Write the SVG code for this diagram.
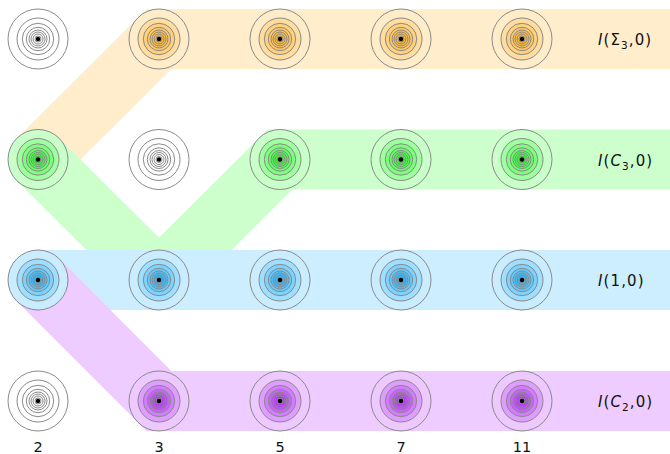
<svg xmlns="http://www.w3.org/2000/svg" xmlns:xlink="http://www.w3.org/1999/xlink" width="670" height="454" viewBox="0 0 670 454">
<style>
.band{fill:none;stroke-width:60;stroke-linecap:butt;stroke-linejoin:miter;stroke-miterlimit:10}
.lbl{font-family:"DejaVu Sans","Liberation Sans",sans-serif;font-size:15px;letter-spacing:1.1px;fill:#111}
.num{font-family:"DejaVu Sans","Liberation Sans",sans-serif;font-size:14.5px;fill:#111;text-anchor:middle}
.w{color:transparent}
.o{color:#ffa500}
.g{color:#00ff00}
.b{color:#00aaff}
.p{color:#aa00ff}
</style>
<defs>
<g id="rings">
<circle r="30" fill="#fff"/>
<g fill="currentColor" fill-opacity="0.21" stroke="#8a8a8a" stroke-width="1">
<circle r="30"/><circle r="21"/><circle r="15.7"/><circle r="11.7"/><circle r="9"/><circle r="7"/><circle r="5"/><circle r="3"/>
</g>
<circle r="2.2" fill="#000"/>
</g>
</defs>
<rect width="670" height="454" fill="#fff"/>
<g id="connectors">
<path class="band" stroke="#ffedcc" d="M38,159.5 L159,39 L670,39"/>
<path class="band" stroke="#ccffcc" d="M38,159.5 L159,280 M159,280 L280,159.5 L670,159.5"/>
<path class="band" stroke="#cceeff" d="M38,280 L670,280"/>
<path class="band" stroke="#eeccff" d="M38,280 L159,401 L670,401"/>
</g>
<g id="n2_0" class="w"><use xlink:href="#rings" href="#rings" x="38" y="39"/></g>
<g id="n3_0" class="o"><use xlink:href="#rings" href="#rings" x="159" y="39"/></g>
<g id="n5_0" class="o"><use xlink:href="#rings" href="#rings" x="280" y="39"/></g>
<g id="n7_0" class="o"><use xlink:href="#rings" href="#rings" x="401" y="39"/></g>
<g id="n11_0" class="o"><use xlink:href="#rings" href="#rings" x="522" y="39"/></g>
<g id="n2_1" class="g"><use xlink:href="#rings" href="#rings" x="38" y="159.5"/></g>
<g id="n3_1" class="w"><use xlink:href="#rings" href="#rings" x="159" y="159.5"/></g>
<g id="n5_1" class="g"><use xlink:href="#rings" href="#rings" x="280" y="159.5"/></g>
<g id="n7_1" class="g"><use xlink:href="#rings" href="#rings" x="401" y="159.5"/></g>
<g id="n11_1" class="g"><use xlink:href="#rings" href="#rings" x="522" y="159.5"/></g>
<g id="n2_2" class="b"><use xlink:href="#rings" href="#rings" x="38" y="280"/></g>
<g id="n3_2" class="b"><use xlink:href="#rings" href="#rings" x="159" y="280"/></g>
<g id="n5_2" class="b"><use xlink:href="#rings" href="#rings" x="280" y="280"/></g>
<g id="n7_2" class="b"><use xlink:href="#rings" href="#rings" x="401" y="280"/></g>
<g id="n11_2" class="b"><use xlink:href="#rings" href="#rings" x="522" y="280"/></g>
<g id="n2_3" class="w"><use xlink:href="#rings" href="#rings" x="38" y="401"/></g>
<g id="n3_3" class="p"><use xlink:href="#rings" href="#rings" x="159" y="401"/></g>
<g id="n5_3" class="p"><use xlink:href="#rings" href="#rings" x="280" y="401"/></g>
<g id="n7_3" class="p"><use xlink:href="#rings" href="#rings" x="401" y="401"/></g>
<g id="n11_3" class="p"><use xlink:href="#rings" href="#rings" x="522" y="401"/></g>
<g id="labels">
<text class="lbl" x="598" y="45"><tspan font-style="italic">I</tspan>(Σ<tspan font-size="10.5" dy="4">3</tspan><tspan dy="-4">,0)</tspan></text>
<text class="lbl" x="598" y="165.5"><tspan font-style="italic">I</tspan>(<tspan font-style="italic">C</tspan><tspan font-size="10.5" dy="4">3</tspan><tspan dy="-4">,0)</tspan></text>
<text class="lbl" x="598" y="286"><tspan font-style="italic">I</tspan>(1,0)</text>
<text class="lbl" x="598" y="407"><tspan font-style="italic">I</tspan>(<tspan font-style="italic">C</tspan><tspan font-size="10.5" dy="4">2</tspan><tspan dy="-4">,0)</tspan></text>
<text class="num" x="38" y="452">2</text>
<text class="num" x="159" y="452">3</text>
<text class="num" x="280" y="452">5</text>
<text class="num" x="401" y="452">7</text>
<text class="num" x="522" y="452">11</text>
</g>
</svg>
